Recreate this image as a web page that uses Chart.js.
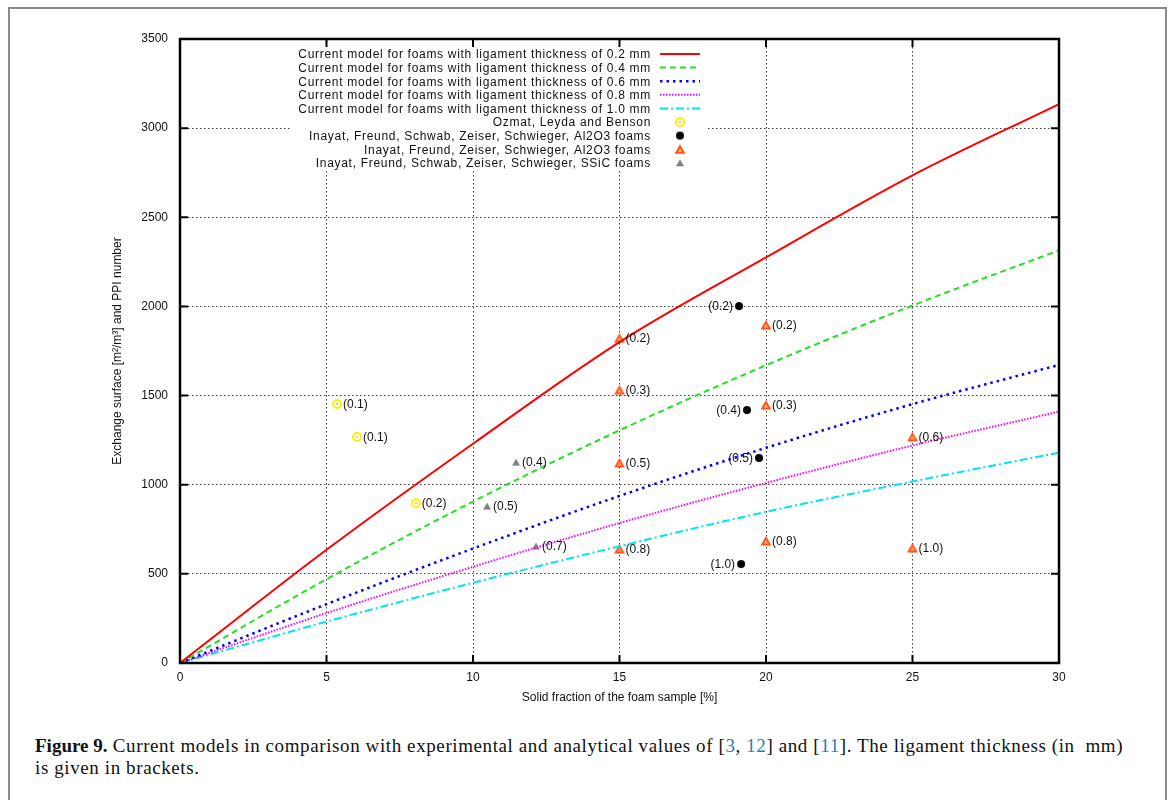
<!DOCTYPE html>
<html>
<head>
<meta charset="utf-8">
<script src="https://cdn.jsdelivr.net/npm/chart.js@4"></script>
<style>
  body { margin: 0; background: #fff; }
  #frame {
    position: absolute; left: 8px; top: 7px; width: 1155px; height: 820px;
    border: 2px solid #8a8a8a; border-bottom: none;
  }
  #wrap { position: absolute; left: 0; top: 0; width: 1171px; height: 720px; }
  #caption {
    position: absolute; left: 35px; top: 735px; width: 1120px;
    font-family: "Liberation Serif", "DejaVu Serif", serif; font-size: 19px; line-height: 22px;
    letter-spacing: 0.6px; color: #111; white-space: nowrap;
  }
  #caption b { letter-spacing: 0; }
  #caption a { color: #2a7ab8; text-decoration: none; }
</style>
</head>
<body>
<div id="frame"></div>
<div id="wrap"><canvas id="chart" width="1171" height="720"></canvas></div>
<div id="caption"><b>Figure 9.</b> Current models in comparison with experimental and analytical values of [<a>3</a>, <a>12</a>] and [<a>11</a>]. The ligament thickness (in&nbsp; mm)<br>is given in brackets.</div>
<script>
// model curves
const modelX = [0, 5, 10, 15, 20, 25, 30];
const model02 = [0, 635, 1230, 1800, 2275, 2735, 3135];
const model04 = [0, 470, 905, 1305, 1670, 2005, 2315];
const model06 = [0, 330, 642, 937, 1207, 1452, 1672];
const model08 = [0, 280, 540, 785, 1010, 1220, 1410];
const model10 = [0, 232, 450, 655, 848, 1018, 1180];

// measurements
const ozmatX = [5.36, 6.04, 8.05];
const ozmatY = [1453, 1268, 897];
const ozmatLabels = ['(0.1)', '(0.1)', '(0.2)'];

const inayatAlX = [19.08, 19.35, 19.76, 19.15];
const inayatAlY = [2002, 1419, 1150, 555];
const inayatAlLabels = ['(0.2)', '(0.4)', '(0.5)', '(1.0)'];

const freundAlX = [15, 15, 15, 15, 20, 20, 20, 25, 25];
const freundAlY = [1822, 1531, 1122, 639, 1896, 1447, 684, 1268, 645];
const freundAlLabels = ['(0.2)', '(0.3)', '(0.5)', '(0.8)', '(0.2)', '(0.3)', '(0.8)', '(0.6)', '(1.0)'];

const inayatSiX = [11.47, 10.48, 12.15];
const inayatSiY = [1127, 880, 656];
const inayatSiLabels = ['(0.4)', '(0.5)', '(0.7)'];

const legendLabels = [
    'Current model for foams with ligament thickness of 0.2 mm',
    'Current model for foams with ligament thickness of 0.4 mm',
    'Current model for foams with ligament thickness of 0.6 mm',
    'Current model for foams with ligament thickness of 0.8 mm',
    'Current model for foams with ligament thickness of 1.0 mm',
    'Ozmat, Leyda and Benson',
    'Inayat, Freund, Schwab, Zeiser, Schwieger, Al2O3 foams',
    'Inayat, Freund, Zeiser, Schwieger, Al2O3 foams',
    'Inayat, Freund, Schwab, Zeiser, Schwieger, SSiC foams'
];

const xTicks = [0, 5, 10, 15, 20, 25, 30];
const yTicks = [0, 500, 1000, 1500, 2000, 2500, 3000, 3500];

const FONT = '"Liberation Sans", Arial, sans-serif';

function pairs(xs, ys) {
    return xs.map((x, i) => ({x: x, y: ys[i]}));
}

// marker images
function makeMarker(w, h, draw) {
    const c = document.createElement('canvas');
    c.width = w; c.height = h;
    draw(c.getContext('2d'), w, h);
    return c;
}
const ringMarker = makeMarker(12, 12, (g) => {
    g.strokeStyle = '#ffee00';
    g.lineWidth = 2;
    g.beginPath(); g.arc(6, 6, 4, 0, Math.PI * 2); g.stroke();
    g.fillStyle = '#e0c000';
    g.beginPath(); g.arc(6, 6, 1, 0, Math.PI * 2); g.fill();
});
const dotMarker = makeMarker(10, 10, (g) => {
    g.fillStyle = '#000';
    g.beginPath(); g.arc(5, 5, 4, 0, Math.PI * 2); g.fill();
});
const orangeMarker = makeMarker(12, 11, (g) => {
    g.fillStyle = '#ff5512';
    g.beginPath(); g.moveTo(6, 0.5); g.lineTo(11.5, 10); g.lineTo(0.5, 10); g.closePath(); g.fill();
    g.fillStyle = '#ffb890';
    g.beginPath(); g.moveTo(6, 4.5); g.lineTo(8, 8); g.lineTo(4, 8); g.closePath(); g.fill();
});
const grayMarker = makeMarker(10, 9, (g) => {
    g.fillStyle = '#808080';
    g.beginPath(); g.moveTo(5, 1); g.lineTo(9, 8); g.lineTo(1, 8); g.closePath(); g.fill();
});

const lineStyles = [
    {color: '#ff0000', width: 2, dash: []},
    {color: '#22e022', width: 2, dash: [6, 4]},
    {color: '#0000ff', width: 2.5, dash: [2.5, 4]},
    {color: '#ff00ff', width: 2, dash: [1.5, 1.5]},
    {color: '#00e4f0', width: 2, dash: [8, 3, 2, 3]}
];
const modelSeries = [model02, model04, model06, model08, model10];

const datasets = modelSeries.map((ys, i) => ({
    type: 'line',
    label: legendLabels[i],
    data: pairs(modelX, ys),
    borderColor: lineStyles[i].color,
    borderWidth: lineStyles[i].width,
    borderDash: lineStyles[i].dash,
    cubicInterpolationMode: 'monotone',
    pointRadius: 0,
    fill: false
}));

const pointSets = [
    {xs: ozmatX, ys: ozmatY, labels: ozmatLabels, img: ringMarker, side: 1},
    {xs: inayatAlX, ys: inayatAlY, labels: inayatAlLabels, img: dotMarker, side: -1},
    {xs: freundAlX, ys: freundAlY, labels: freundAlLabels, img: orangeMarker, side: 1},
    {xs: inayatSiX, ys: inayatSiY, labels: inayatSiLabels, img: grayMarker, side: 1}
];
pointSets.forEach((p, i) => {
    datasets.push({
        type: 'scatter',
        label: legendLabels[5 + i],
        data: pairs(p.xs, p.ys),
        pointStyle: p.img,
        pointRadius: 5,
        showLine: false,
        pointLabels: p.labels,
        labelSide: p.side
    });
});

const legendBox = {
    id: 'legendBox',
    beforeDatasetsDraw(chart) {
        const ctx = chart.ctx;
        ctx.save();
        ctx.fillStyle = '#fff';
        ctx.fillRect(290, 44, 418, 126);
        ctx.restore();
    }
};

const pointText = {
    id: 'pointText',
    afterDatasetsDraw(chart) {
        const ctx = chart.ctx;
        ctx.save();
        ctx.font = '12px ' + FONT;
        ctx.fillStyle = '#111';
        ctx.textBaseline = 'middle';
        chart.data.datasets.forEach((ds, di) => {
            if (!ds.pointLabels) return;
            const meta = chart.getDatasetMeta(di);
            meta.data.forEach((pt, i) => {
                if (ds.labelSide > 0) {
                    ctx.textAlign = 'left';
                    ctx.fillText(ds.pointLabels[i], pt.x + 6, pt.y + 1);
                } else {
                    ctx.textAlign = 'right';
                    ctx.fillText(ds.pointLabels[i], pt.x - 6, pt.y + 1);
                }
            });
        });
        ctx.restore();
    }
};

const keyAndFrame = {
    id: 'keyAndFrame',
    afterDraw(chart) {
        const ctx = chart.ctx;
        const a = chart.chartArea;
        const xs = chart.scales.x, ys = chart.scales.y;
        ctx.save();
        // key
        ctx.font = '12px ' + FONT;
        ctx.letterSpacing = '0.7px';
        ctx.fillStyle = '#111';
        ctx.textAlign = 'right';
        ctx.textBaseline = 'middle';
        legendLabels.forEach((t, i) => {
            const y = 54 + i * 13.6;
            ctx.fillText(t, 651, y + 1);
            if (i < 5) {
                const s = lineStyles[i];
                ctx.strokeStyle = s.color;
                ctx.lineWidth = s.width;
                ctx.setLineDash(s.dash);
                ctx.beginPath(); ctx.moveTo(660, y); ctx.lineTo(700, y); ctx.stroke();
                ctx.setLineDash([]);
            } else {
                const img = pointSets[i - 5].img;
                ctx.drawImage(img, 680 - img.width / 2, y - img.height / 2);
            }
        });
        ctx.letterSpacing = '0px';
        // border and inward ticks
        ctx.strokeStyle = '#000';
        ctx.lineWidth = 2.5;
        ctx.strokeRect(a.left, a.top, a.right - a.left, a.bottom - a.top);
        ctx.lineWidth = 2;
        ctx.beginPath();
        xTicks.forEach(v => {
            const px = xs.getPixelForValue(v);
            ctx.moveTo(px, a.bottom); ctx.lineTo(px, a.bottom - 8);
            ctx.moveTo(px, a.top); ctx.lineTo(px, a.top + 8);
        });
        yTicks.forEach(v => {
            const py = ys.getPixelForValue(v);
            ctx.moveTo(a.left, py); ctx.lineTo(a.left + 8, py);
            ctx.moveTo(a.right, py); ctx.lineTo(a.right - 8, py);
        });
        ctx.stroke();
        ctx.restore();
    }
};

const gridStyle = {
    color: 'rgba(0,0,0,0.75)',
    lineWidth: 1,
    drawTicks: false
};

new Chart(document.querySelector('#chart'), {
    data: {datasets},
    plugins: [legendBox, pointText, keyAndFrame],
    options: {
        responsive: false,
        animation: false,
        layout: {padding: {left: 100, top: 39, right: 112, bottom: 7}},
        plugins: {legend: {display: false}, tooltip: {enabled: false}},
        scales: {
            x: {
                type: 'linear',
                min: 0, max: 30,
                afterFit: s => { s.height = 50; },
                afterBuildTicks: s => { s.ticks = xTicks.map(v => ({value: v})); },
                grid: gridStyle,
                border: {display: false, dash: [1.5, 2.5]},
                ticks: {color: '#111', padding: 7, font: {family: FONT, size: 12},
                        callback: v => String(v)},
                title: {display: true, text: 'Solid fraction of the foam sample [%]', color: '#111',
                        padding: {bottom: 8}, font: {family: FONT, size: 12}}
            },
            y: {
                type: 'linear',
                min: 0, max: 3500,
                afterFit: s => { s.width = 80; },
                afterBuildTicks: s => { s.ticks = yTicks.map(v => ({value: v})); },
                grid: gridStyle,
                border: {display: false, dash: [1.5, 2.5]},
                ticks: {color: '#111', padding: 12, font: {family: FONT, size: 12},
                        callback: v => String(v)},
                title: {display: true, text: 'Exchange surface [m²/m³] and PPI number', color: '#111',
                        padding: {top: 10}, font: {family: FONT, size: 12}}
            }
        }
    }
});
</script>
</body>
</html>
